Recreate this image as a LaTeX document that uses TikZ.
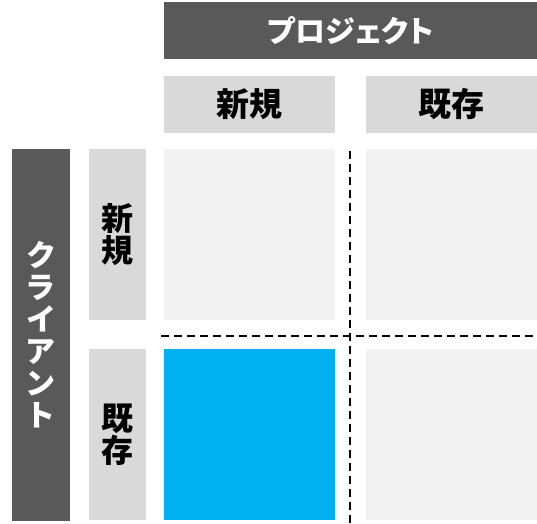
\documentclass[tikz,border=0pt]{standalone}
\usepackage{fontspec}
\usepackage{tikz}
\usetikzlibrary{positioning}
\newfontfamily\jpfont{Noto Sans CJK JP}[RawFeature=+palt]
\definecolor{BarGray}{HTML}{595959}
\definecolor{HeadGray}{HTML}{D9D9D9}
\definecolor{CellGray}{HTML}{F2F2F2}
\definecolor{CellBlue}{HTML}{00B0F0}
\tikzset{
  darkbar/.style={fill=BarGray, text=white, inner sep=0pt, font=\jpfont\bfseries\fontsize{30}{32}\selectfont},
  headbox/.style={fill=HeadGray, text=black, inner sep=0pt, minimum width=171pt, minimum height=57pt, font=\jpfont\bfseries\fontsize{33}{33}\selectfont},
  sidebox/.style={headbox, minimum width=57pt, minimum height=171pt, align=center, font=\jpfont\bfseries\fontsize{32}{30}\selectfont},
  cellbox/.style={fill=CellGray, inner sep=0pt, minimum width=171pt, minimum height=171pt},
  splitline/.style={black, line width=2pt, dash pattern=on 8pt off 5pt}
}

\begin{document}
\begin{tikzpicture}[x=1pt, y=-1pt]
    \useasboundingbox (0,0) rectangle (537,523);

    \node[darkbar, minimum width=373pt, minimum height=57pt] (project) at (350.5,30.5) {プロジェクト};
    \node[headbox] (colnew) at (249.5,104.5) {新規};
    \node[headbox] (colold) at (451.5,104.5) {既存};

    \node[darkbar, minimum width=58pt, minimum height=372pt, align=center] (client) at (41,335) {ク\\ラ\\イ\\ア\\ン\\ト};
    \node[sidebox] (rownew) at (117.5,234.5) {新\\規};
    \node[sidebox] (rowold) at (117.5,434.5) {既\\存};

    \node[cellbox] (newnew) at (249.5,234.5) {};
    \node[cellbox] (newold) at (451.5,234.5) {};
    \node[cellbox, fill=CellBlue] (oldnew) at (249.5,434.5) {};
    \node[cellbox] (oldold) at (451.5,434.5) {};

    \coordinate (vtop) at (350,151);
    \coordinate (vbot) at (350,523);
    \coordinate (hleft) at (161,336);
    \coordinate (hright) at (537,336);
    \draw[splitline] (vtop) -- (vbot);
    \draw[splitline] (hleft) -- (hright);
  \end{tikzpicture}
\end{document}
